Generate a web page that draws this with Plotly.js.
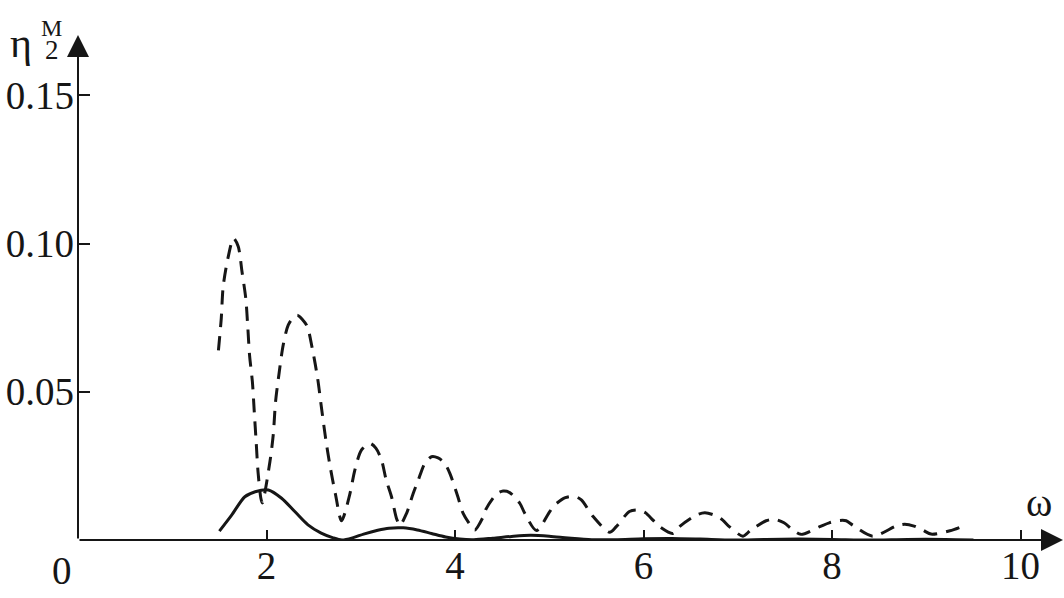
<!DOCTYPE html>
<html>
<head>
<meta charset="utf-8">
<script src="https://cdn.plot.ly/plotly-3.0.1.min.js"></script>
<style>html,body{margin:0;padding:0;background:#fff;}#chart{width:1064px;height:598px;}</style>
</head>
<body>
<div id="chart"></div>
<script>
// Dashed curve (ω, η2M)
const omegaDash = [1.49,1.52,1.54,1.59,1.65,1.70,1.74,1.78,1.80,1.82,1.85,1.87,1.89,1.91,1.94,1.955,2.036,2.071,2.096,2.131,2.177,2.23,2.29,2.33,2.425,2.485,2.542,2.584,2.627,2.672,2.733,2.796,2.884,2.937,3.008,3.097,3.16,3.22,3.27,3.326,3.38,3.415,3.486,3.556,3.61,3.68,3.75,3.82,3.89,3.945,4.03,4.086,4.175,4.21,4.30,4.33,4.44,4.51,4.58,4.687,4.74,4.864,5.005,5.058,5.17,5.27,5.34,5.465,5.64,5.71,5.85,5.94,6.02,6.10,6.17,6.31,6.38,6.56,6.65,6.75,6.84,6.91,7.055,7.14,7.30,7.39,7.49,7.585,7.67,7.87,7.97,8.08,8.15,8.22,8.43,8.68,8.77,8.87,8.96,9.05,9.25,9.35];
const etaDash = [0.064,0.0748,0.0855,0.095,0.1018,0.099,0.0905,0.0815,0.0725,0.0624,0.0534,0.0433,0.0332,0.023,0.0141,0.0125,0.0264,0.0354,0.0467,0.0557,0.0658,0.0725,0.0753,0.0758,0.0725,0.0647,0.0546,0.0444,0.0343,0.0253,0.0152,0.0065,0.0155,0.0236,0.0304,0.0326,0.031,0.027,0.0202,0.0146,0.0072,0.005,0.009,0.0157,0.0202,0.0259,0.0281,0.0277,0.0259,0.0225,0.0146,0.009,0.0045,0.0034,0.0079,0.0105,0.0155,0.0165,0.016,0.0124,0.009,0.0032,0.0096,0.0118,0.0143,0.0147,0.0135,0.0079,0.0026,0.0045,0.0096,0.0101,0.0092,0.0067,0.0045,0.0022,0.0045,0.0084,0.0092,0.0084,0.0067,0.0045,0.0013,0.0034,0.0065,0.007,0.0058,0.0034,0.0019,0.0045,0.0058,0.0066,0.0065,0.005,0.0013,0.0047,0.0053,0.0047,0.0034,0.002,0.0031,0.0042];

// Solid curve
const omegaSolid = [1.50,1.63,1.77,1.88,2.02,2.16,2.30,2.44,2.58,2.70,2.80,2.92,3.03,3.18,3.30,3.45,3.60,3.75,3.90,4.05,4.20,4.40,4.60,4.80,5.00,5.20,5.45,5.70,6.00,6.30,6.60,6.95,7.30,7.65,8.00,8.40,8.80,9.20,9.50];
const etaSolid = [0.0030,0.0084,0.0146,0.0163,0.0169,0.0141,0.0096,0.0051,0.0023,0.0008,0.0,0.0008,0.0020,0.0033,0.0040,0.0041,0.0034,0.0022,0.0010,0.0003,0.0001,0.0006,0.0012,0.0016,0.0013,0.0007,0.0001,0.0001,0.0004,0.0005,0.0003,0.0,0.0002,0.0003,0.0002,0.0,0.0002,0.0002,0.0];

const xTickVals = [2,4,6,8,10];
const xTickText = ['2','4','6','8','10'];
const yTickVals = [0.05,0.10,0.15];
const yTickText = ['0.05','0.10','0.15'];

const FONT = 'Liberation Serif';
const INK = '#161616';

const traces = [
  {x: omegaDash, y: etaDash, mode: 'lines', line: {color: INK, width: 3, dash: '14px,9px', shape: 'spline', smoothing: 0.8}, hoverinfo: 'none'},
  {x: omegaSolid, y: etaSolid, mode: 'lines', line: {color: INK, width: 3, shape: 'spline', smoothing: 0.8}, hoverinfo: 'none'}
];

const layout = {
  width: 1064, height: 598,
  margin: {l: 78, r: 1, t: 35, b: 58},
  paper_bgcolor: '#fff', plot_bgcolor: '#fff',
  showlegend: false,
  font: {family: FONT, size: 39, color: INK},
  xaxis: {
    range: [0, 10.45], showgrid: false, zeroline: false, showline: false,
    ticks: 'inside', ticklen: 10, tickwidth: 2, tickcolor: INK,
    tickvals: xTickVals, ticktext: xTickText,
    tickfont: {family: FONT, size: 39, color: INK},
    ticklabelstandoff: -1
  },
  yaxis: {
    range: [0, 0.1704], showgrid: false, zeroline: false, showline: false,
    ticks: 'inside', ticklen: 12, tickwidth: 2, tickcolor: INK,
    tickvals: yTickVals, ticktext: yTickText,
    tickfont: {family: FONT, size: 39, color: INK},
    ticklabelstandoff: 3
  },
  annotations: [
    {xref: 'x', yref: 'y', axref: 'x', ayref: 'y', x: 10.45, y: 0, ax: 0, ay: 0, text: '', showarrow: true, arrowhead: 2, arrowsize: 2.2, arrowwidth: 2, arrowcolor: INK},
    {xref: 'x', yref: 'y', axref: 'x', ayref: 'y', x: 0, y: 0.1704, ax: 0, ay: 0, text: '', showarrow: true, arrowhead: 2, arrowsize: 2.2, arrowwidth: 2, arrowcolor: INK},
    {xref: 'paper', yref: 'paper', x: 0, y: 0, xshift: -16, yshift: -30, xanchor: 'center', yanchor: 'middle', text: '0', showarrow: false, font: {family: FONT, size: 39, color: INK}},
    {xref: 'x', yref: 'y', x: 10.2, y: 0.0125, xanchor: 'center', yanchor: 'middle', text: 'ω', showarrow: false, font: {family: FONT, size: 40, color: INK}},
    {xref: 'paper', yref: 'paper', x: 0, y: 1, xshift: -57, yshift: -8, xanchor: 'center', yanchor: 'middle', text: 'η', showarrow: false, font: {family: FONT, size: 42, color: INK}},
    {xref: 'paper', yref: 'paper', x: 0, y: 1, xshift: -27, yshift: -5, xanchor: 'center', yanchor: 'middle', text: '<span style="font-size:24px">M</span><br><span style="font-size:27px">2</span>', showarrow: false, font: {family: FONT, size: 18, color: INK}}
  ]
};

Plotly.newPlot('chart', traces, layout, {staticPlot: true, displayModeBar: false});
</script>
</body>
</html>
